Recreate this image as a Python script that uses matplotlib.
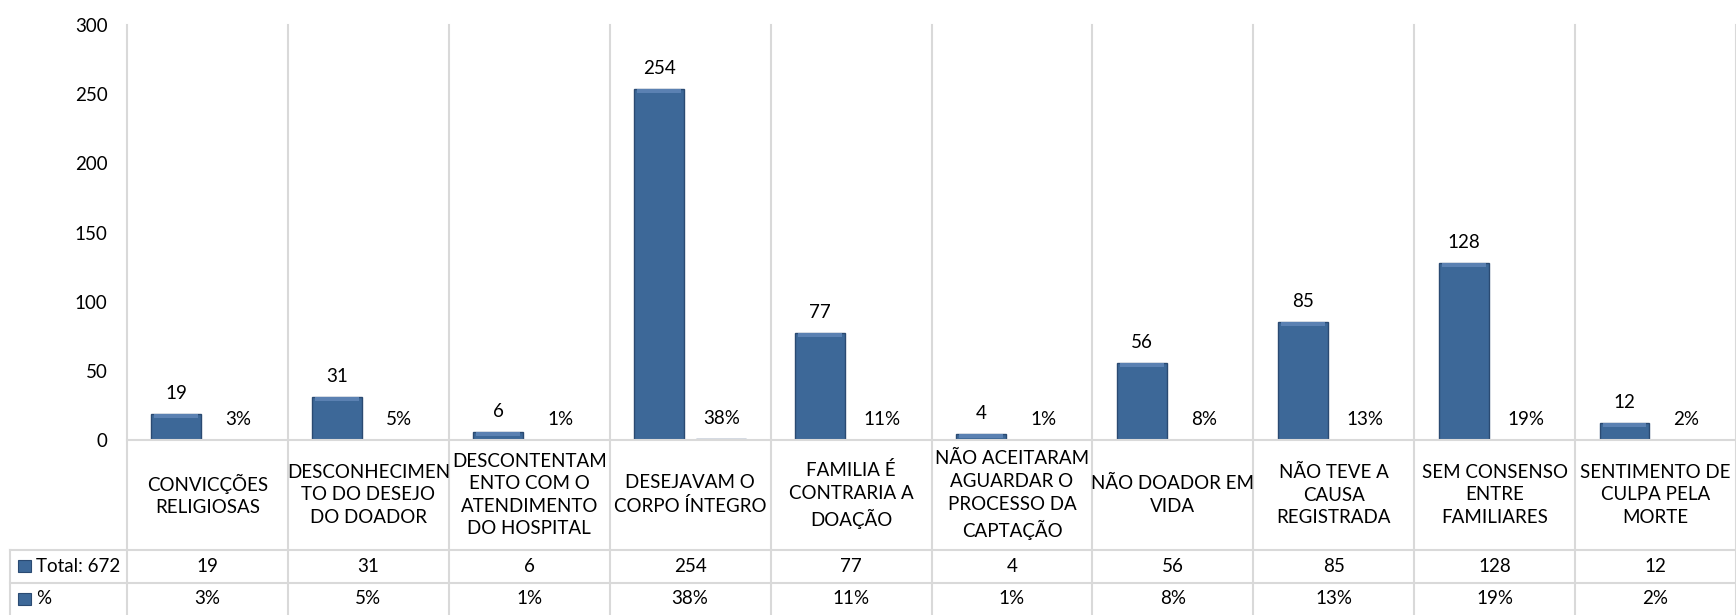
import matplotlib
matplotlib.use('Agg')
import matplotlib.pyplot as plt
import numpy as np
from matplotlib.lines import Line2D
from matplotlib.patches import Rectangle

plt.rcParams['font.family'] = ['Lato', 'DejaVu Sans']

# data
categories = [
    'CONVICÇÕES\nRELIGIOSAS',
    'DESCONHECIMEN\nTO DO DESEJO\nDO DOADOR',
    'DESCONTENTAM\nENTO COM O\nATENDIMENTO\nDO HOSPITAL',
    'DESEJAVAM O\nCORPO ÍNTEGRO',
    'FAMILIA É\nCONTRARIA A\nDOAÇÃO',
    'NÃO ACEITARAM\nAGUARDAR O\nPROCESSO DA\nCAPTAÇÃO',
    'NÃO DOADOR EM\nVIDA',
    'NÃO TEVE A\nCAUSA\nREGISTRADA',
    'SEM CONSENSO\nENTRE\nFAMILIARES',
    'SENTIMENTO DE\nCULPA PELA\nMORTE',
]
totals = [19, 31, 6, 254, 77, 4, 56, 85, 128, 12]
pcts = [3, 5, 1, 38, 11, 1, 8, 13, 19, 2]
row_labels = ['Total: 672', '%']

W, H = 1736, 615
bar_color = '#3D6898'
edge_color = '#2A4A72'
top_color = '#5B81B2'
grid_color = '#D9D9D9'
fs = 13.5

fig = plt.figure(figsize=(W / 100, H / 100), dpi=100)
# plot area in pixels: left 127, top 25, zero line 440
ax = fig.add_axes([127 / W, (H - 440) / H, (W - 127) / W, (440 - 25) / H])

def ay(py):
    # pixel row -> axes y fraction
    return (440 - py) / 415

def fx(px):
    return px / W

def fy(py):
    return (H - py) / H

x = np.arange(len(categories)) + 0.5
off = 0.193
bw = 0.31
pct_vals = np.array(pcts) / 100

ax.bar(x - off, totals, bw, color=bar_color, edgecolor=edge_color, linewidth=1.0, zorder=3)
ax.bar(x + off, pct_vals, bw, color=bar_color, edgecolor=edge_color, linewidth=1.0, zorder=3)

# light bevel on top of the bars
bev = 4 * 300 / 415
tv = np.array(totals, dtype=float)
ax.bar(x - off, np.minimum(bev, tv), bw * 0.88, bottom=np.maximum(tv - bev, 0),
       color=top_color, linewidth=0, zorder=4)

for xi, v in zip(x - off, totals):
    ax.annotate(str(v), (xi, v), xytext=(0, 12), textcoords='offset pixels',
                ha='center', va='bottom', fontsize=fs)
for xi, v, p in zip(x + off, pct_vals, pcts):
    ax.annotate(f'{p}%', (xi, v), xytext=(0, 12), textcoords='offset pixels',
                ha='center', va='bottom', fontsize=fs)

ax.set_xlim(0, len(categories))
ax.set_ylim(0, 300)
ax.set_yticks(range(0, 301, 50))
ax.set_xticks([])
ax.tick_params(axis='y', length=0, labelsize=fs, pad=14)
for s in ['top', 'right', 'left']:
    ax.spines[s].set_visible(False)
ax.spines['bottom'].set_color(grid_color)
ax.spines['bottom'].set_linewidth(1.5)
ax.spines['bottom'].set_zorder(5)

# vertical category separators, running down through the data table
for b in range(len(categories) + 1):
    ax.axvline(b, ymin=ay(H), ymax=1, color=grid_color, lw=1.5, clip_on=False, zorder=1)

# data table lines
for py in [550, 583]:
    fig.add_artist(Line2D([fx(10), 1], [fy(py), fy(py)], color=grid_color, lw=1.5))
fig.add_artist(Line2D([fx(10), fx(10)], [fy(550), fy(H)], color=grid_color, lw=1.5))

xt = ax.get_xaxis_transform()
for xi, lab, t, p in zip(x, categories, totals, pcts):
    ax.text(xi, ay(495), lab, transform=xt, ha='center', va='center',
            fontsize=fs, linespacing=1.4)
    ax.text(xi, ay(566), str(t), transform=xt, ha='center', va='center', fontsize=fs)
    ax.text(xi, ay(599), f'{p}%', transform=xt, ha='center', va='center', fontsize=fs)

for py, lab in zip([566, 599], row_labels):
    fig.add_artist(Rectangle((fx(18), fy(py + 6)), fx(13), 12 / H,
                             facecolor=bar_color, edgecolor=edge_color, lw=0.8))
    fig.text(fx(36), fy(py), lab, ha='left', va='center', fontsize=fs)

fig.savefig('out.png', dpi=100)
